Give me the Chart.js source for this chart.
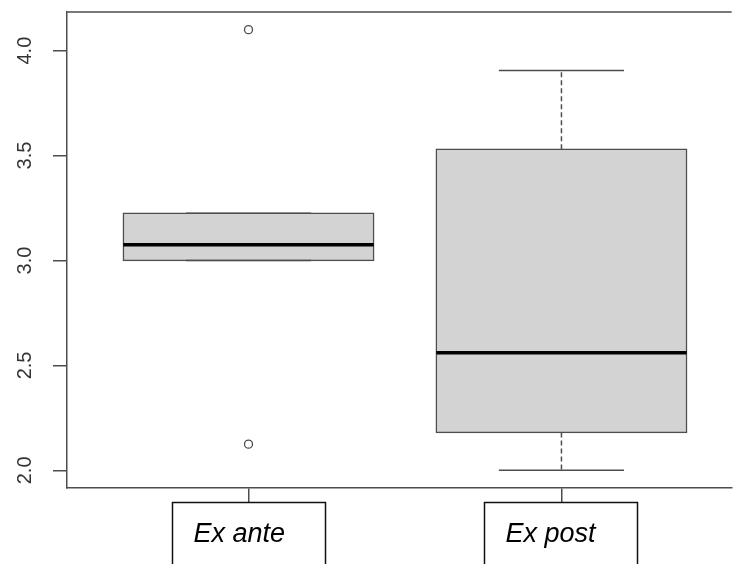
<!DOCTYPE html>
<html>
<head>
<meta charset="utf-8">
<script src="https://cdn.jsdelivr.net/npm/chart.js@4.4.0/dist/chart.umd.min.js"></script>
<style>
  html, body { margin: 0; padding: 0; background: #fff; }
  #box-chart { display: block; }
</style>
</head>
<body>
<canvas id="box-chart" width="737" height="564"></canvas>
<script>
// Group statistics for the two boxes
const groups = ['Ex ante', 'Ex post'];
const lowerWhisker = [3.0, 2.0];
const lowerQuartile = [3.0, 2.18];
const medians = [3.075, 2.56];
const upperQuartile = [3.225, 3.53];
const upperWhisker = [3.225, 3.905];
const outliers = [[4.1, 2.125], []];
const yTicks = [2.0, 2.5, 3.0, 3.5, 4.0];

const lineColor = '#4d4d4d';
const fontFamily = '"Liberation Sans", Arial, sans-serif';

// box positions on the x axis: 1, 2, ...
const centers = groups.map((_, i) => i + 1);
const BOX_HALF = 0.4;
const STAPLE_HALF = 0.2;

const medianPoints = centers.flatMap((c, i) => [
    { x: c - BOX_HALF, y: medians[i] },
    { x: c + BOX_HALF, y: medians[i] },
    { x: c + BOX_HALF, y: null }
]);

const whiskerPoints = centers.flatMap((c, i) => [
    { x: c, y: upperQuartile[i] }, { x: c, y: upperWhisker[i] }, { x: c, y: null },
    { x: c, y: lowerQuartile[i] }, { x: c, y: lowerWhisker[i] }, { x: c, y: null }
]);

const staplePoints = centers.flatMap((c, i) => [
    { x: c - STAPLE_HALF, y: upperWhisker[i] }, { x: c + STAPLE_HALF, y: upperWhisker[i] }, { x: c, y: null },
    { x: c - STAPLE_HALF, y: lowerWhisker[i] }, { x: c + STAPLE_HALF, y: lowerWhisker[i] }, { x: c, y: null }
]);

const outlierPoints = centers.flatMap((c, i) => outliers[i].map(v => ({ x: c, y: v })));

const boxData = centers.map((c, i) => ({ x: c, y: [lowerQuartile[i], upperQuartile[i]] }));

// top edge of the frame plus the boxed group names under the axis
const frameAndLabels = {
    id: 'frameAndLabels',
    afterDraw(chart) {
        const { ctx, chartArea, scales: { x } } = chart;
        ctx.save();
        ctx.strokeStyle = lineColor;
        ctx.lineWidth = 1.5;
        ctx.beginPath();
        ctx.moveTo(chartArea.left, chartArea.top);
        ctx.lineTo(chartArea.right, chartArea.top);
        ctx.stroke();

        ctx.font = 'italic 27px ' + fontFamily;
        ctx.textAlign = 'left';
        ctx.textBaseline = 'alphabetic';
        groups.forEach((name, i) => {
            const px = x.getPixelForValue(centers[i]);
            const left = Math.round(px - 77) + 0.5;
            const top = Math.round(chartArea.bottom + 14) + 0.5;
            ctx.fillStyle = '#fff';
            ctx.fillRect(left, top, 153, 90);
            ctx.strokeStyle = '#111';
            ctx.lineWidth = 1.5;
            ctx.strokeRect(left, top, 153, 90);
            ctx.fillStyle = '#000';
            ctx.fillText(name, left + 21, top + 39);
        });
        ctx.restore();
    }
};

const axisGrid = {
    display: true,
    drawOnChartArea: false,
    drawTicks: true,
    tickLength: 14,
    color: lineColor,
    lineWidth: 1.5,
    offset: false
};

const canvas = document.getElementById('box-chart');
new Chart(canvas, {
    type: 'bar',
    data: {
        datasets: [{
            type: 'line',
            data: medianPoints,
            borderColor: '#000',
            borderWidth: 3.5,
            borderCapStyle: 'butt',
            pointRadius: 0,
            tension: 0,
            order: 0
        }, {
            type: 'line',
            data: whiskerPoints,
            borderColor: lineColor,
            borderWidth: 1.5,
            borderDash: [5, 3],
            pointRadius: 0,
            tension: 0,
            order: 1
        }, {
            type: 'line',
            data: staplePoints,
            borderColor: lineColor,
            borderWidth: 1.5,
            pointRadius: 0,
            tension: 0,
            order: 1
        }, {
            type: 'scatter',
            data: outlierPoints,
            pointRadius: 4,
            pointBackgroundColor: '#fff',
            pointBorderColor: lineColor,
            pointBorderWidth: 1.3,
            order: 1
        }, {
            type: 'bar',
            data: boxData,
            backgroundColor: '#d3d3d3',
            borderColor: lineColor,
            borderWidth: 1.5,
            borderSkipped: false,
            inflateAmount: 0.75, // keep the outline centred on the quartile values
            categoryPercentage: 0.8,
            barPercentage: 1,
            order: 2
        }]
    },
    options: {
        responsive: false,
        animation: false,
        layout: { padding: { top: 12, right: 0, bottom: 0, left: 0 } },
        plugins: {
            legend: { display: false },
            tooltip: { enabled: false }
        },
        scales: {
            x: {
                type: 'linear',
                min: 0.42,
                max: 2.544,
                offset: false,
                afterBuildTicks: scale => { scale.ticks = centers.map(v => ({ value: v })); },
                afterFit: scale => {
                    scale.height = 76;
                    scale.paddingLeft = 0;
                    scale.paddingRight = 0;
                },
                grid: axisGrid,
                border: { display: true, color: lineColor, width: 1.5 },
                ticks: { display: false }
            },
            y: {
                type: 'linear',
                min: 1.916,
                max: 4.184,
                afterBuildTicks: scale => { scale.ticks = yTicks.map(v => ({ value: v })); },
                afterFit: scale => {
                    scale.width = 67;
                    scale.paddingTop = 0;
                    scale.paddingBottom = 0;
                },
                grid: axisGrid,
                border: { display: true, color: lineColor, width: 1.5 },
                ticks: {
                    minRotation: 90,
                    maxRotation: 90,
                    crossAlign: 'center',
                    padding: 14,
                    color: '#333',
                    font: { family: fontFamily, size: 20 },
                    callback: value => value.toFixed(1)
                }
            }
        }
    },
    plugins: [frameAndLabels]
});
</script>
</body>
</html>
